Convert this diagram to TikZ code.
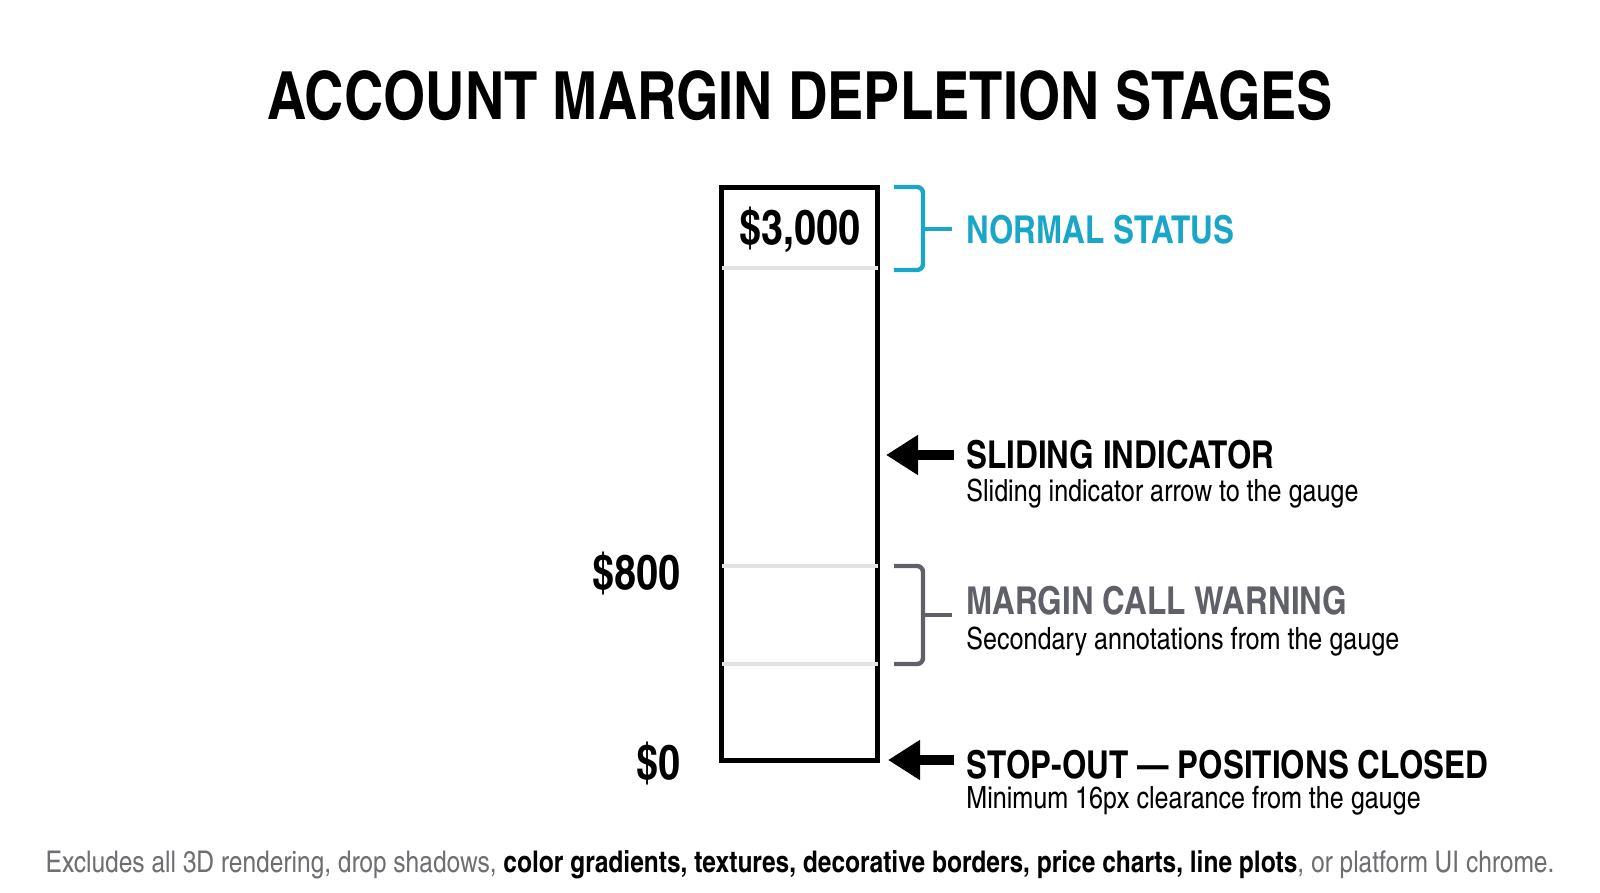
\documentclass[tikz,border=0pt]{standalone}
\usepackage{fontspec}
\setmainfont{TeX Gyre Heros Cn}
\usepackage{xcolor}
\usetikzlibrary{arrows.meta,positioning}
\definecolor{normalc}{HTML}{1AA6C9}
\definecolor{warnc}{HTML}{5F6068}
\definecolor{notec}{HTML}{6E6E73}
\definecolor{rulec}{HTML}{E2E3E4}

\begin{document}
\begin{tikzpicture}[x=0.5pt, y=-0.5pt,
    gauge/.style={draw, line width=2.6pt, minimum width=78pt, minimum height=286.5pt, inner sep=0pt},
    divider/.style={rulec, line width=2pt},
    bracket/.style={line width=2.2pt, rounded corners=3pt},
    pointer/.style={line width=5pt, -{Triangle[length=16pt,width=19pt]}},
    head/.style={anchor=base west, inner sep=0pt, font=\fontsize{19.2}{22}\selectfont\bfseries},
    sub/.style={anchor=base west, inner sep=0pt, font=\fontsize{15.3}{18}\selectfont},
    amount/.style={anchor=base east, inner sep=0pt, font=\fontsize{24.2}{28}\selectfont\bfseries}]
    \useasboundingbox (0,0) rectangle (1600,893);
    \node[anchor=base, inner sep=0pt, font=\fontsize{33.2}{38}\selectfont\bfseries] (title) at (800,120) {ACCOUNT MARGIN DEPLETION STAGES};
    % gauge
    \node[gauge] (gauge) at (799.5,474) {};
    \foreach \yy in {268,566,664}
        \draw[divider] ([xshift=1.3pt]gauge.west |- 0,\yy) -- ([xshift=-1.3pt]gauge.east |- 0,\yy);
    \node[anchor=base, inner sep=0pt, font=\fontsize{24.2}{28}\selectfont\bfseries] (top) at (800,245) {\$3,000};
    \node[amount] (low) at (681,589) {\$800};
    \node[amount] (zero) at (681,779) {\$0};
    % labels
    \node[head, normalc] (normal) at (966,243) {NORMAL STATUS};
    \node[head] (slide) at (966,468) {SLIDING INDICATOR};
    \node[sub] (slidesub) at (966,501) {Sliding indicator arrow to the gauge};
    \node[head, warnc] (warn) at (966,614) {MARGIN CALL WARNING};
    \node[sub] (warnsub) at (966,649) {Secondary annotations from the gauge};
    \node[head] (stop) at (966,778) {STOP-OUT — POSITIONS CLOSED};
    \node[sub] (stopsub) at (966,808) {Minimum 16px clearance from the gauge};
    % brackets
    \draw[bracket, normalc] (894,187) -- (923,187) -- (923,270) -- (894,270);
    \draw[line width=2.2pt, normalc] (923,229) -- (952,229);
    \draw[bracket, warnc] (894,566) -- (923,566) -- (923,664) -- (894,664);
    \draw[line width=2.2pt, warnc] (923,615) -- (952,615);
    % indicators
    \coordinate (slidetail) at (954,455);
    \coordinate (stoptail) at (954,760);
    \draw[pointer] (slidetail) -- (886,455);
    \draw[pointer] (stoptail) -- (888,760);
    \node[anchor=base, inner sep=0pt, text=notec, font=\fontsize{14.95}{18}\selectfont] (foot) at (800,872)
        {Excludes all 3D rendering, drop shadows, \textcolor{black}{\bfseries color gradients, textures, decorative borders, price charts, line plots}, or platform UI chrome.};
\end{tikzpicture}
\end{document}
